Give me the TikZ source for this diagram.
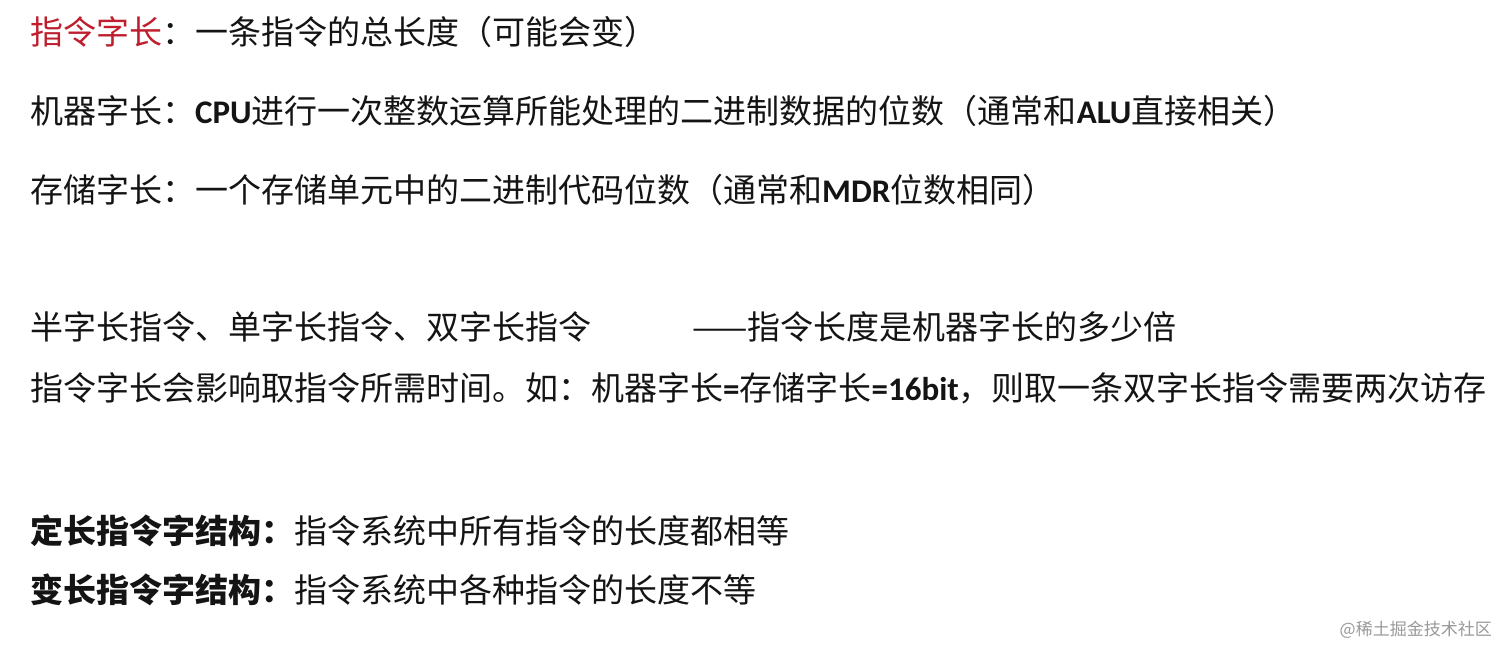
\documentclass[tikz,border=0pt]{standalone}
\usepackage{fontspec}
\setmainfont{Noto Sans CJK SC}
\newfontfamily\lat{Carlito}
\newcommand\lt[1]{{\lat\bfseries #1}}
\definecolor{hl}{RGB}{190,30,45}
\definecolor{tx}{RGB}{20,20,20}
\begin{document}
\begin{tikzpicture}[x=1pt,y=-1pt,
  ln/.style={anchor=west,inner sep=0pt,text=tx,font=\fontsize{33}{38}\selectfont}]
\useasboundingbox[fill=white] (0,0) rectangle (1512,658);
\node[ln] (l1) at (30,32) {\textcolor{hl}{指令字长}：一条指令的总长度（可能会变）};
\node[ln] (l2) at (30,111) {机器字长：\lt{CPU}进行一次整数运算所能处理的二进制数据的位数（通常和\lt{ALU}直接相关）};
\node[ln] (l3) at (30,190) {存储字长：一个存储单元中的二进制代码位数（通常和\lt{MDR}位数相同）};
\node[ln] (l4) at (30,327) {半字长指令、单字长指令、双字长指令};
\node[ln] (l4b) at (692,327) {——指令长度是机器字长的多少倍};
\node[ln] (l5) at (30,388) {指令字长会影响取指令所需时间。如：机器字长\lt{=}存储字长\lt{=16bit}，则取一条双字长指令需要两次访存};
\node[ln,font=\fontsize{33}{38}\selectfont\bfseries] (l6) at (30,531) {定长指令字结构：\mdseries 指令系统中所有指令的长度都相等};
\node[ln,font=\fontsize{33}{38}\selectfont\bfseries] (l7) at (30,590) {变长指令字结构：\mdseries 指令系统中各种指令的长度不等};
\node[anchor=east,inner sep=0pt,text=gray!80,font=\fontsize{17}{20}\selectfont] (wm) at (1492,630) {@稀土掘金技术社区};
\end{tikzpicture}
\end{document}
